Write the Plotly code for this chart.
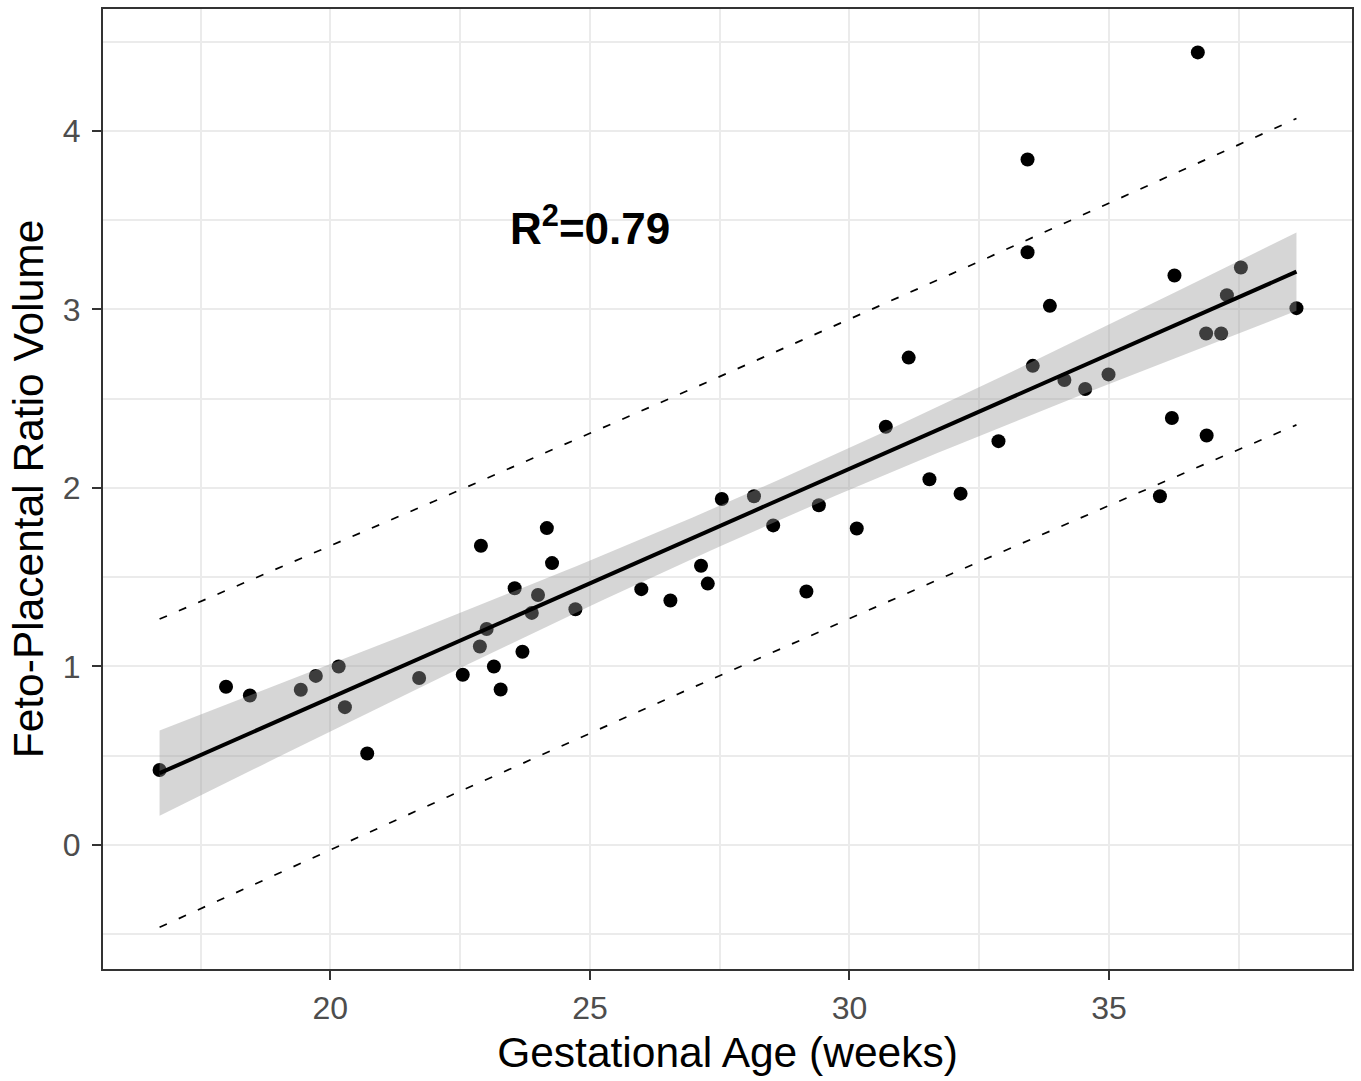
import numpy as np
import plotly.graph_objects as go

# Gestational age (weeks) and feto-placental ratio volume
ga = [16.71, 17.99, 18.45, 19.43, 19.72, 20.16, 20.28, 20.71, 21.71, 22.55,
      22.90, 22.88, 23.01, 23.15, 23.28, 23.55, 23.70, 23.88, 24.00, 24.17,
      24.27, 24.72, 25.99, 26.55, 27.14, 27.27, 27.54, 28.16, 28.53, 29.17,
      29.41, 30.14, 30.70, 31.14, 31.54, 32.14, 32.87, 33.43, 33.43, 33.53,
      33.86, 34.14, 34.54, 34.99, 35.98, 36.21, 36.26, 36.71, 36.88, 36.87,
      37.16, 37.27, 37.54, 38.61]
fpr = [0.420, 0.886, 0.837, 0.869, 0.947, 1.000, 0.772, 0.512, 0.935, 0.953,
       1.676, 1.112, 1.210, 1.000, 0.871, 1.438, 1.082, 1.300, 1.400, 1.775,
       1.579, 1.320, 1.433, 1.369, 1.564, 1.464, 1.938, 1.953, 1.790, 1.420,
       1.903, 1.773, 2.343, 2.730, 2.049, 1.968, 2.262, 3.840, 3.320, 2.684,
       3.020, 2.605, 2.554, 2.636, 1.953, 2.392, 3.190, 4.440, 2.294, 2.865,
       2.865, 3.080, 3.235, 3.007]

x_ticks = [20, 25, 30, 35]
y_ticks = [0, 1, 2, 3, 4]
r2_label = "<b>R<sup>2</sup>=0.79</b>"
T_975 = 2.0066  # t quantile, df = n - 2

# linear model fit with confidence ribbon and prediction interval
x = np.array(ga)
y = np.array(fpr)
n = len(x)
b1, b0 = np.polyfit(x, y, 1)
resid = y - (b0 + b1 * x)
s = np.sqrt(np.sum(resid ** 2) / (n - 2))
xbar = x.mean()
sxx = np.sum((x - xbar) ** 2)
xs = np.linspace(x.min(), x.max(), 80)
yhat = b0 + b1 * xs
se_fit = s * np.sqrt(1.0 / n + (xs - xbar) ** 2 / sxx)
se_pred = s * np.sqrt(1 + 1.0 / n + (xs - xbar) ** 2 / sxx)
ci_lo, ci_hi = yhat - T_975 * se_fit, yhat + T_975 * se_fit
pi_lo, pi_hi = yhat - T_975 * se_pred, yhat + T_975 * se_pred

fig = go.Figure()
fig.add_trace(go.Scatter(x=ga, y=fpr, mode="markers",
                         marker=dict(color="black", size=14), showlegend=False))
fig.add_trace(go.Scatter(x=np.concatenate([xs, xs[::-1]]),
                         y=np.concatenate([ci_hi, ci_lo[::-1]]),
                         fill="toself", fillcolor="rgba(153,153,153,0.4)",
                         line=dict(width=0), mode="lines", showlegend=False,
                         hoverinfo="skip"))
fig.add_trace(go.Scatter(x=xs, y=yhat, mode="lines",
                         line=dict(color="black", width=4), showlegend=False))
for band in (pi_hi, pi_lo):
    fig.add_trace(go.Scatter(x=xs, y=band, mode="lines",
                             line=dict(color="black", width=1.7, dash="8px,13px"),
                             showlegend=False))

fig.add_annotation(x=25, y=3.47, text=r2_label, showarrow=False,
                   xanchor="center", yanchor="middle",
                   font=dict(family="Liberation Sans", size=44, color="black"))

axis_common = dict(showline=True, linecolor="#333333", linewidth=2, mirror=True,
                   ticks="outside", ticklen=9, tickwidth=2, tickcolor="#333333",
                   showgrid=True, gridcolor="#ebebeb", gridwidth=2,
                   zeroline=False,
                   tickfont=dict(family="Liberation Sans", size=32, color="#4d4d4d"))

fig.update_layout(
    width=1361, height=1081,
    margin=dict(l=103, r=7, t=9, b=112),
    paper_bgcolor="white", plot_bgcolor="white",
    font=dict(family="Liberation Sans"),
    xaxis=dict(range=[15.62, 39.68], tickvals=x_ticks, ticklabelstandoff=1,
               minor=dict(dtick=2.5, tick0=0, showgrid=True, gridcolor="#ebebeb",
                          gridwidth=1.5, ticks=""),
               title=dict(text="Gestational Age (weeks)", standoff=12,
                          font=dict(family="Liberation Sans", size=42.5, color="black")),
               **axis_common),
    yaxis=dict(range=[-0.695, 4.683], tickvals=y_ticks, ticklabelstandoff=5,
               minor=dict(dtick=0.5, tick0=0, showgrid=True, gridcolor="#ebebeb",
                          gridwidth=1.5, ticks=""),
               title=dict(text="Feto-Placental Ratio Volume", standoff=6,
                          font=dict(family="Liberation Sans", size=42.5, color="black")),
               **axis_common),
)

fig.write_html("out.html")
